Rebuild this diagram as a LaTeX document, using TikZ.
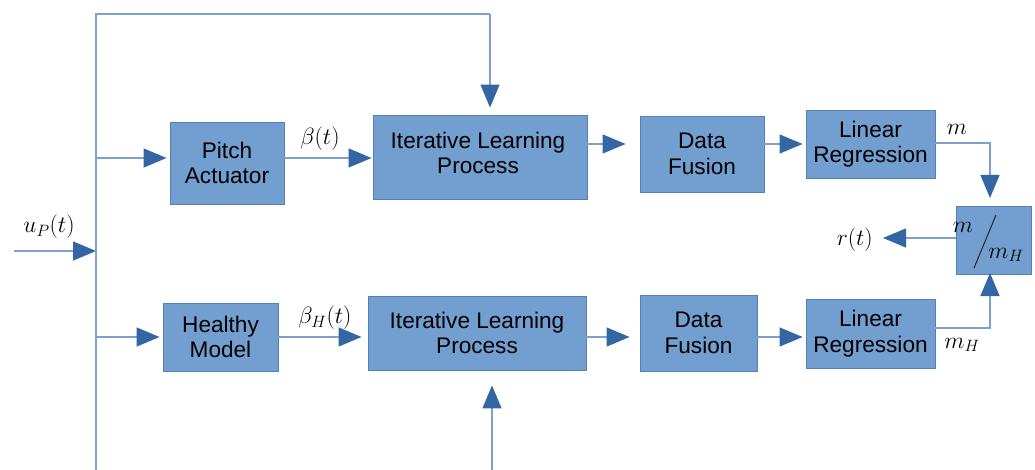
\documentclass[tikz,border=0pt]{standalone}
\usepackage{fix-cm}
\usepackage{fontspec}
\setsansfont{Liberation Sans}
\usetikzlibrary{arrows.meta}

\definecolor{boxfill}{RGB}{114,159,207}
\definecolor{boxline}{RGB}{86,128,186}
\definecolor{wire}{RGB}{125,160,208}
\definecolor{tipfill}{RGB}{52,101,164}

\tikzset{
  blockbox/.style={draw=boxline, line width=0.9pt, fill=boxfill, inner sep=0pt,
    align=center, font=\sffamily\fontsize{22.6}{25.5}\selectfont},
  wireline/.style={draw=wire, line width=1.3pt},
  flow/.style={wireline, -{Triangle[length=23pt,width=19pt,fill=tipfill,color=tipfill]}},
  sig/.style={inner sep=0pt, font=\fontsize{23.5}{27}\selectfont},
}

\begin{document}
\begin{tikzpicture}[x=1pt, y=-1pt]
  \useasboundingbox (0,0) rectangle (1035,470);

  % blocks of the upper (measured) chain
  \node[blockbox, minimum width=114pt, minimum height=82pt] (pa) at (227,163) {Pitch\\Actuator};
  \node[blockbox, minimum width=214pt, minimum height=84pt] (ilp1) at (480,157) {};
  \node[font=\sffamily\fontsize{22.6}{25.5}\selectfont, align=center, inner sep=0pt] (ilp1txt) at (478,153) {Iterative Learning\\Process};
  \node[blockbox, minimum width=124pt, minimum height=76pt] (df1) at (702,154) {Data\\Fusion};
  \node[blockbox, minimum width=129pt, minimum height=68pt] (lr1) at (870.5,144) {Linear\\Regression};

  % blocks of the lower (healthy) chain
  \node[blockbox, minimum width=115pt, minimum height=68pt] (hm) at (220.5,337) {Healthy\\Model};
  \node[blockbox, minimum width=218pt, minimum height=74pt] (ilp2) at (477,333) {Iterative Learning\\Process};
  \node[blockbox, minimum width=117pt, minimum height=76pt] (df2) at (698.5,333) {Data\\Fusion};
  \node[blockbox, minimum width=129pt, minimum height=69pt] (lr2) at (870.5,333.5) {Linear\\Regression};

  % ratio block m / m_H
  \node[blockbox, minimum width=75pt, minimum height=68pt] (div) at (993.5,240) {};
  \draw[line width=1pt, black!85] (974,268) -- (996,215);
  \node[sig] (num) at (963,227) {$m$};
  \node[sig] (den) at (1006,255) {$m_H$};

  % signal labels
  \node[sig] (up) at (49,227) {$u_P(t)$};
  \node[sig] (beta) at (320,139) {$\beta(t)$};
  \node[sig] (betaH) at (325,318) {$\beta_H(t)$};
  \node[sig] (mlab) at (957,129) {$m$};
  \node[sig] (mHlab) at (962,345) {$m_H$};
  \node[sig, anchor=east] (rt) at (873,240) {$r(t)$};

  % input bus
  \coordinate (in) at (14,251);
  \coordinate (bustop) at (96,14);
  \coordinate (busbot) at (96,470);
  \coordinate (busin) at (96,251);
  \coordinate (topdrop) at (490,14);
  \draw[flow] (in) -- (busin);
  \draw[wireline] (busbot) -- (bustop) -- (topdrop);
  \draw[flow, shorten >=7pt] (topdrop) -- (topdrop |- ilp1.north);
  \coordinate (bottomrise) at (492,470);
  \draw[flow, shorten >=15pt] (bottomrise) -- (bottomrise |- ilp2.south);

  % branches to the two chains
  \coordinate (tapA) at (96,158);
  \coordinate (tapB) at (96,337);
  \draw[flow, shorten >=3pt] (tapA) -- (tapA -| pa.west);
  \draw[flow, shorten >=3pt] (tapB) -- (hm.west);

  % upper chain
  \coordinate (paout) at (284,158);
  \draw[flow, shorten >=1pt] (paout) -- (paout -| ilp1.west);
  \coordinate (ilp1out) at (587,144);
  \draw[flow, shorten >=14pt] (ilp1out) -- (ilp1out -| df1.west);
  \coordinate (df1out) at (764,144);
  \draw[flow, shorten >=3pt] (df1out) -- (df1out -| lr1.west);
  \coordinate (lr1out) at (935,143);
  \coordinate (divtop) at (990,206);
  \draw[flow, shorten >=8pt] (lr1out) -| (divtop);

  % lower chain
  \draw[flow, shorten >=6pt] (hm.east) -- (hm.east -| ilp2.west);
  \coordinate (ilp2out) at (586,337);
  \draw[flow, shorten >=10pt] (ilp2out) -- (ilp2out -| df2.west);
  \coordinate (df2out) at (757,337);
  \draw[flow, shorten >=3pt] (df2out) -- (df2out -| lr2.west);
  \coordinate (lr2out) at (935,328);
  \coordinate (divbot) at (990,274);
  \draw[flow, shorten >=-1pt] (lr2out) -| (divbot);

  % residual output
  \coordinate (divout) at (956,238);
  \draw[flow, shorten >=10pt] (divout) -- (divout -| rt.east);
\end{tikzpicture}
\end{document}
